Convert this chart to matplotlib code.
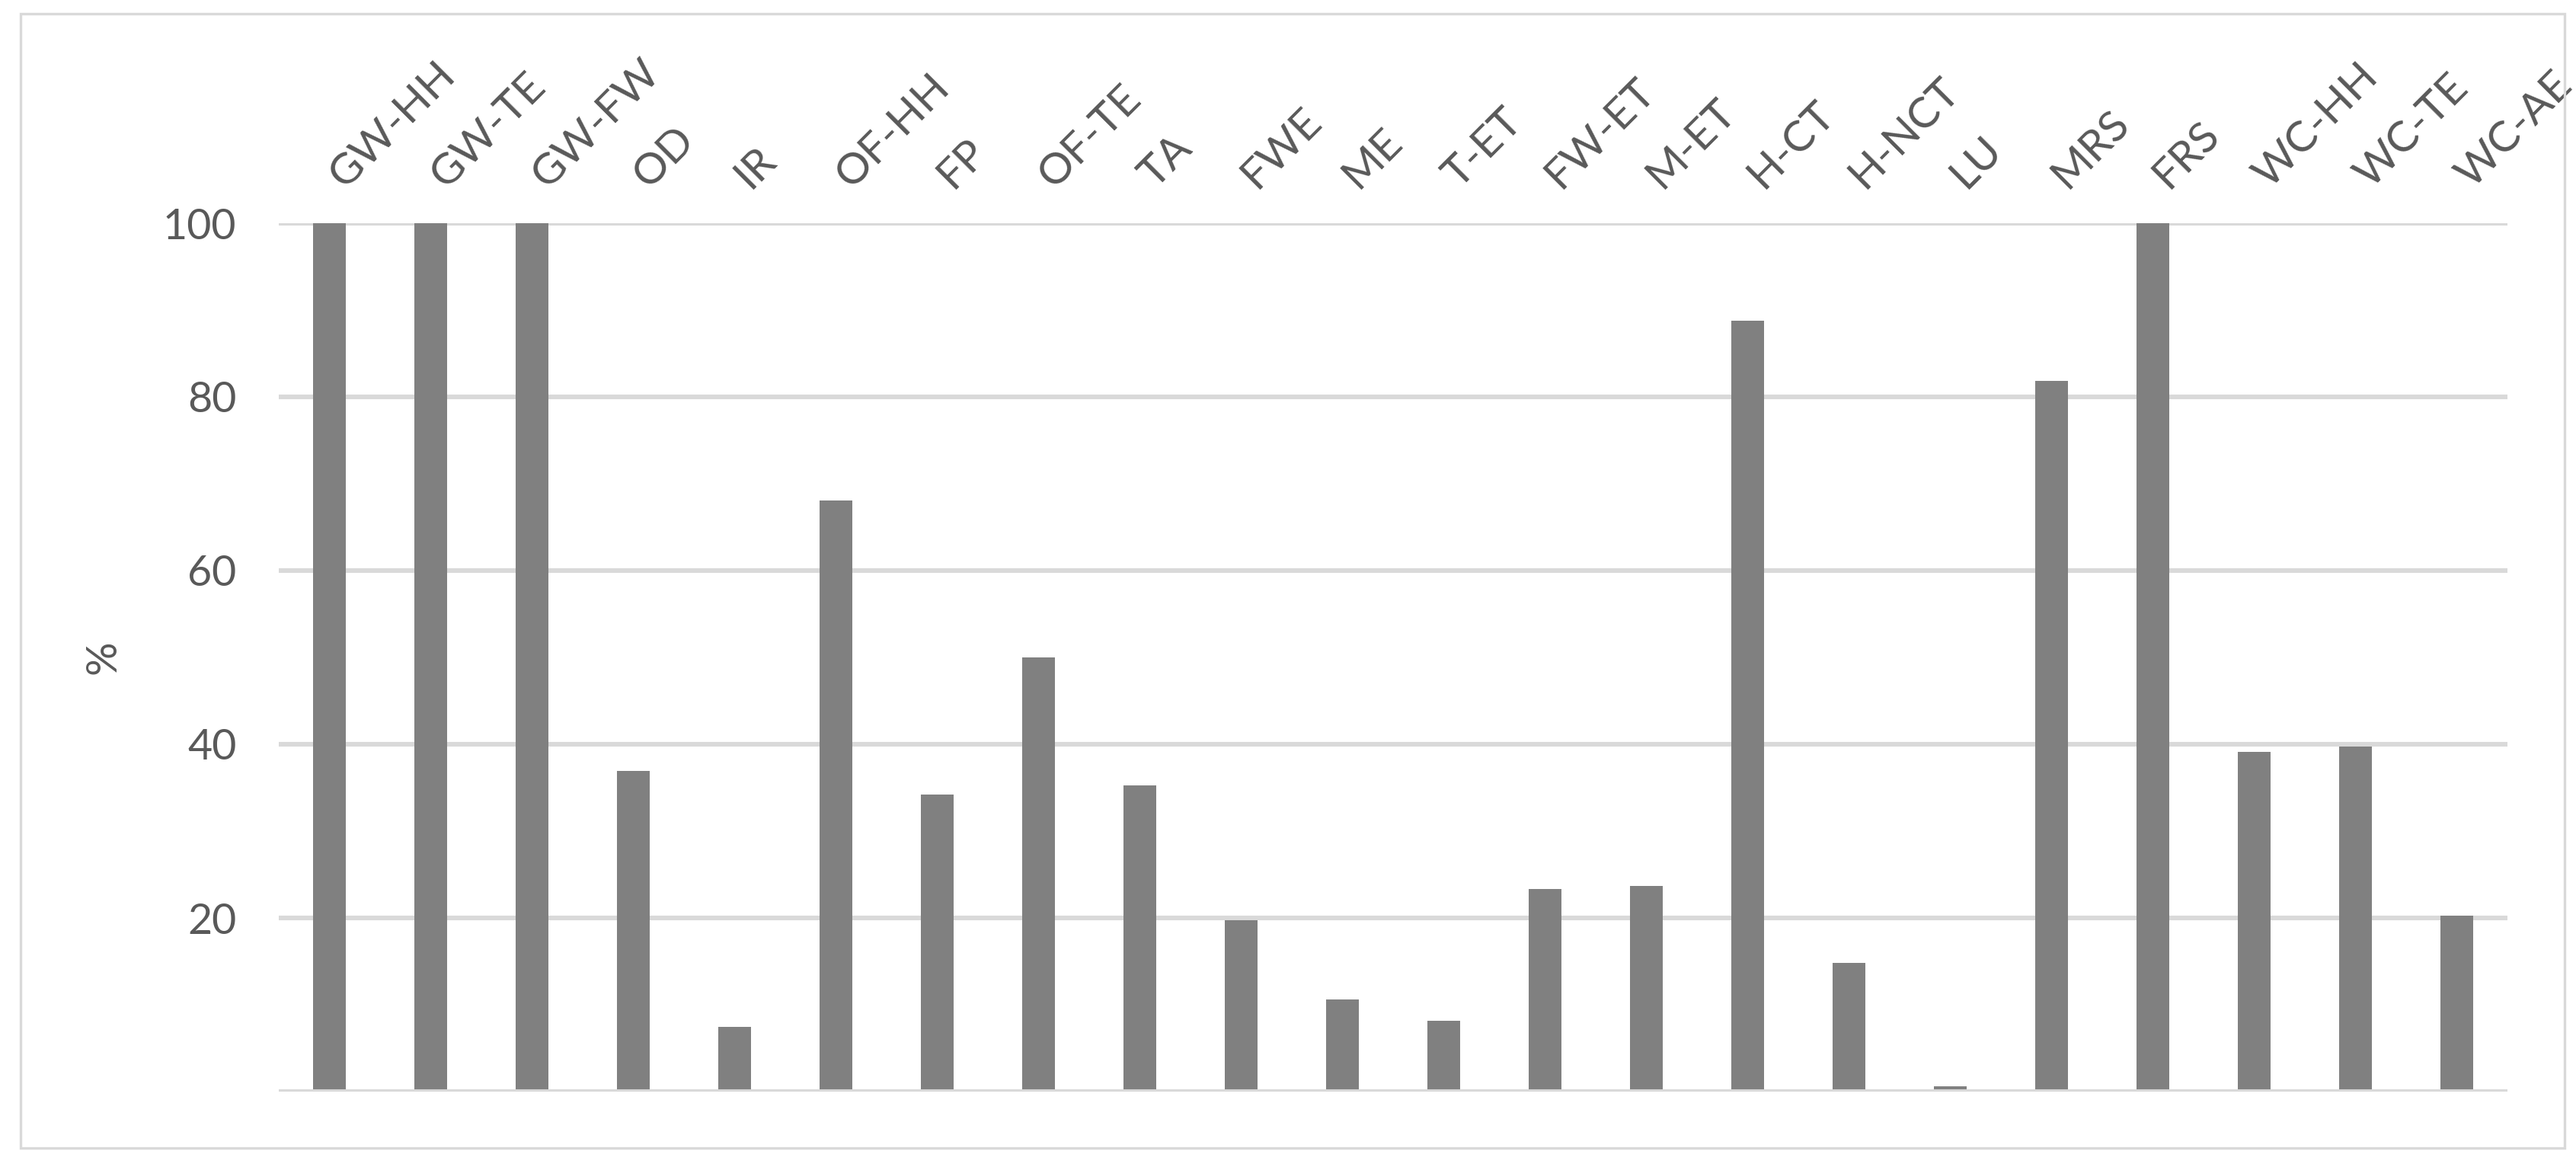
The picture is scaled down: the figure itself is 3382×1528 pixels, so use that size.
import matplotlib
matplotlib.use("Agg")
import matplotlib.pyplot as plt
import matplotlib.transforms as mtransforms
from matplotlib.patches import Rectangle

# categories and values (% of sites)
categories = ["GW-HH", "GW-TE", "GW-FW", "OD", "IR", "OF-HH", "FP", "OF-TE", "TA", "FWE", "ME",
              "T-ET", "FW-ET", "M-ET", "H-CT", "H-NCT", "LU", "MRS", "FRS", "WC-HH", "WC-TE", "WC-AE"]
values = [100, 100, 100, 36.9, 7.5, 68.1, 34.2, 50.0, 35.3, 19.7, 10.6,
          8.2, 23.3, 23.7, 88.8, 14.8, 0.6, 81.8, 100, 39.1, 39.7, 20.3]
y_ticks = [0, 20, 40, 60, 80, 100]
y_labels = ["", "20", "40", "60", "80", "100"]

plt.rcParams['font.family'] = ['Lato', 'DejaVu Sans']
text_color = "#595959"
grid_color = "#d9d9d9"

fig = plt.figure(figsize=(16.91, 7.64), dpi=200)

# outer chart border
fig.patches.append(Rectangle((27 / 3382, 1 - 1507 / 1528), (3367 - 27) / 3382, (1507 - 18) / 1528,
                             transform=fig.transFigure, fill=False, edgecolor=grid_color, linewidth=1.2))

ax = fig.add_axes([366 / 3382, 1 - 1433 / 1528, (3292 - 366) / 3382, (1433 - 293) / 1528])

x = list(range(len(categories)))
ax.bar(x, values, width=0.32, color="#808080", zorder=2)

ax.set_xlim(-0.5, len(categories) - 0.5)
ax.set_ylim(0, 100)
ax.set_yticks(y_ticks)
ax.set_yticklabels(y_labels)
ax.yaxis.grid(True, color=grid_color, linewidth=2.2, zorder=1)
ax.set_axisbelow(True)
ax.axhline(0, color=grid_color, linewidth=2.2, zorder=3)

for s in ax.spines.values():
    s.set_visible(False)

ax.xaxis.tick_top()
ax.set_xticks(x)
ax.set_xticklabels(categories, rotation=45, ha="left", va="baseline", rotation_mode="anchor")
ax.tick_params(axis="x", length=0, pad=18, labelsize=20.5, colors=text_color)
ax.tick_params(axis="y", length=0, pad=20, labelsize=20, colors=text_color)

# nudge the rotated labels so they start at the bar centre, like the original
shift = mtransforms.ScaledTranslation(20 / 200, -6 / 200, fig.dpi_scale_trans)
for lbl in ax.get_xticklabels():
    lbl.set_transform(lbl.get_transform() + shift)

ax.set_ylabel("%", fontsize=20, color=text_color)
ax.yaxis.set_label_coords((162 - 366) / 2926, 0.5)

fig.savefig("out.png", dpi=200, facecolor="white")
